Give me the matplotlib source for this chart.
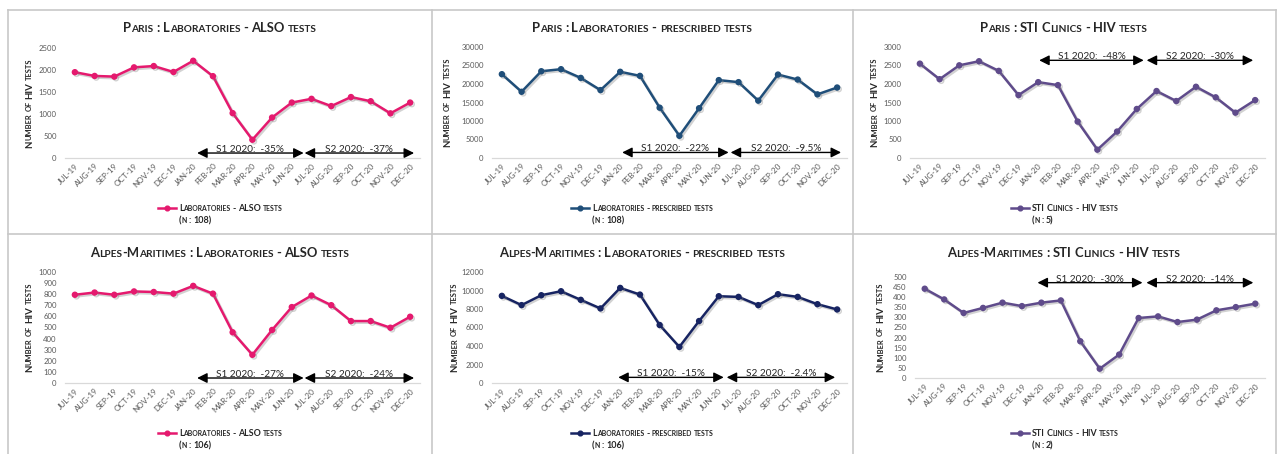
import numpy as np
import matplotlib
matplotlib.use('Agg')
import matplotlib.pyplot as plt
import matplotlib.patheffects as pe
from matplotlib.transforms import IdentityTransform
from matplotlib.lines import Line2D

W, H = 1278, 454
FONT = 'Lato'
ID = IdentityTransform()

# ---- data ----
months = ['Jul-19', 'Aug-19', 'Sep-19', 'Oct-19', 'Nov-19', 'Dec-19',
          'Jan-20', 'Feb-20', 'Mar-20', 'Apr-20', 'May-20', 'Jun-20',
          'Jul-20', 'Aug-20', 'Sep-20', 'Oct-20', 'Nov-20', 'Dec-20']

paris_also = [1950, 1865, 1850, 2060, 2090, 1955, 2210, 1860, 1020, 415, 920, 1260,
              1345, 1180, 1385, 1290, 1015, 1260]
paris_presc = [22650, 17900, 23450, 24000, 21650, 18350, 23300, 22200, 13600, 6000, 13450, 21050,
               20500, 15500, 22550, 21200, 17200, 19050]
paris_sti = [2550, 2130, 2505, 2615, 2355, 1700, 2050, 1970, 985, 225, 715, 1325,
             1810, 1540, 1925, 1640, 1225, 1565]
am_also = [795, 815, 795, 825, 820, 805, 875, 805, 457, 254, 478, 684,
           788, 701, 558, 558, 498, 597]
am_presc = [9420, 8420, 9490, 9920, 8990, 8060, 10280, 9560, 6270, 3900, 6700, 9380,
            9310, 8420, 9600, 9310, 8520, 7950]
am_sti = [442, 389, 322, 347, 373, 356, 373, 384, 182, 46, 116, 297,
          305, 277, 289, 335, 351, 368]

titles = ['Paris : Laboratories - ALSO tests',
          'Paris : Laboratories - prescribed tests',
          'Paris : STI Clinics - HIV tests',
          'Alpes-Maritimes : Laboratories - ALSO tests',
          'Alpes-Maritimes : Laboratories - prescribed tests',
          'Alpes-Maritimes : STI Clinics - HIV tests']
legend_labels = ['Laboratories - ALSO tests', 'Laboratories - prescribed tests',
                 'STI Clinics - HIV tests'] * 2
n_labels = ['(n : 108)', '(n : 108)', '(n : 5)', '(n : 106)', '(n : 106)', '(n : 2)']
s1_labels = ['S1 2020:  -35%', 'S1 2020:  -22%', 'S1 2020:  -48%',
             'S1 2020:  -27%', 'S1 2020:  -15%', 'S1 2020:  -30%']
s2_labels = ['S2 2020:  -37%', 'S2 2020:  -9.5%', 'S2 2020:  -30%',
             'S2 2020:  -24%', 'S2 2020:  -2.4%', 'S2 2020:  -14%']
ylabel = 'Number of HIV tests'
y_max = [2500, 30000, 3000, 1000, 12000, 500]
y_step = [500, 5000, 500, 100, 2000, 50]

PINK = '#E5196E'
BLUE = '#1F4E79'
NAVY = '#172462'
PURPLE = '#5F4B8B'

# layout (pixels from top-left): axes rect, ylabel x, arrow spans + height
panels = [
    dict(data=paris_also, color=PINK, rect=(65, 48, 420, 158), ylx=32, cx=220, row=0,
         s1=(6.2, 11.6), s2=(11.65, 17.2), ay=113),
    dict(data=paris_presc, color=BLUE, rect=(492, 47, 847, 158), ylx=450, cx=642, row=0,
         s1=(6.1, 11.5), s2=(11.6, 17.2), ay=1500),
    dict(data=paris_sti, color=PURPLE, rect=(910, 47, 1265, 158), ylx=877, cx=1064, row=0,
         s1=(6.05, 11.35), s2=(11.5, 16.9), ay=2640),
    dict(data=am_also, color=PINK, rect=(65, 272, 420, 383), ylx=32, cx=220, row=1,
         s1=(6.2, 11.6), s2=(11.65, 17.2), ay=45),
    dict(data=am_presc, color=NAVY, rect=(492, 272, 847, 383), ylx=457, cx=642, row=1,
         s1=(5.9, 11.25), s2=(11.4, 16.9), ay=610),
    dict(data=am_sti, color=PURPLE, rect=(915, 277, 1265, 378), ylx=883, cx=1064, row=1,
         s1=(5.8, 11.2), s2=(11.4, 16.9), ay=472),
]

fig = plt.figure(figsize=(W / 100, H / 100), dpi=100)
fig.patch.set_facecolor('white')
renderer = fig.canvas.get_renderer()


def text_w(s, size, weight='normal'):
    a = fig.text(0, 0, '|' + s + '|', fontsize=size, fontweight=weight, family=FONT)
    b = fig.text(0, 0, '||', fontsize=size, fontweight=weight, family=FONT)
    w = a.get_window_extent(renderer).width - b.get_window_extent(renderer).width
    a.remove()
    b.remove()
    return w


def sc_layout(s, size, weight='bold', ratio=0.78):
    # small caps: lower case letters drawn as smaller capitals
    runs = []
    for ch in s:
        if ch == ' ':
            runs.append([' ', False])
            continue
        small = ch.islower()
        if runs and runs[-1][0] != ' ' and runs[-1][1] == small:
            runs[-1][0] += ch.upper()
        else:
            runs.append([ch.upper(), small])
    items = []
    for t, small in runs:
        sz = size * ratio if small else size
        items.append((t, sz, text_w(t, sz, weight)))
    return items


def sc_width(s, size):
    return sum(it[2] for it in sc_layout(s, size))


def sc_draw(items, x, y, ha='center', angle=0, color='#262626', weight='bold'):
    total = sum(i[2] for i in items)
    a = np.radians(angle)
    dx, dy = np.cos(a), np.sin(a)
    off = {'left': 0, 'center': total / 2, 'right': total}[ha]
    X, Y = x - off * dx, (H - y) - off * dy
    for t, sz, w in items:
        if t != ' ':
            fig.text(X, Y, t, fontsize=sz, fontweight=weight, color=color, family=FONT,
                     ha='left', va='baseline', rotation=angle, rotation_mode='anchor',
                     transform=ID)
        X += w * dx
        Y += w * dy
    return total


def fit(strings, targets, measure):
    # font size giving the text widths seen in the reference
    got = sum(measure(s, 10) for s in strings)
    return 10 * sum(targets) / got


title_size = fit(titles, [191, 220, 172, 260, 291, 235], sc_width)
ylab_size = fit([ylabel], [90], sc_width)
leg_size = fit(legend_labels[:3], [105, 125, 88], sc_width)
arrow_size = fit([s1_labels[0], s2_labels[0]], [68, 68], text_w)
xtick_size = fit(['JUL-19'], [26], text_w)
ytick_size = fit(['2500'], [18], text_w)

# panel borders
border = '#C8C8C8'
for (x0, y0, x1, y1) in [(8, 10, 1276, 10), (8, 234, 1276, 234), (8, 10, 8, 454),
                         (432, 10, 432, 454), (853, 10, 853, 454), (1276, 10, 1276, 454)]:
    fig.add_artist(Line2D([x0, x1], [H - y0, H - y1], transform=ID, color=border, lw=1.2))

shadow = [pe.SimpleLineShadow(offset=(1.2, -1.2), shadow_color='#7F7F7F', alpha=0.35),
          pe.Normal()]

for i, p in enumerate(panels):
    x0, y0, x1, y1 = p['rect']
    ax = fig.add_axes([x0 / W, 1 - y1 / H, (x1 - x0) / W, (y1 - y0) / H])
    xs = np.arange(len(months))
    ax.plot(xs, p['data'], color=p['color'], lw=1.8, marker='o', ms=3.6,
            path_effects=shadow, clip_on=False, zorder=3)
    ax.set_xlim(-0.5, len(months) - 0.5)
    ax.set_ylim(0, y_max[i])
    ax.set_yticks(np.arange(0, y_max[i] + 1, y_step[i]))
    ax.set_xticks(xs)
    ax.set_xticklabels([m.upper() for m in months], rotation=45, ha='right',
                       rotation_mode='anchor', fontsize=xtick_size, color='#595959',
                       family=FONT)
    for lab in ax.get_yticklabels():
        lab.set_fontsize(ytick_size)
        lab.set_color('#595959')
        lab.set_family(FONT)
    ax.tick_params(length=0, axis='y', pad=6)
    ax.tick_params(length=0, axis='x', pad=3)
    for s in ['left', 'top', 'right']:
        ax.spines[s].set_visible(False)
    ax.spines['bottom'].set_color('#D9D9D9')
    ax.spines['bottom'].set_linewidth(0.9)
    ax.patch.set_alpha(0)

    # semester arrows
    for span, lab in [(p['s1'], s1_labels[i]), (p['s2'], s2_labels[i])]:
        ax.annotate('', xy=(span[1], p['ay']), xytext=(span[0], p['ay']),
                    arrowprops=dict(arrowstyle='<|-|>', color='black', lw=1.0,
                                    mutation_scale=15, shrinkA=0, shrinkB=0))
        ax.annotate(lab, xy=((span[0] + span[1]) / 2, p['ay']), xytext=(0, 0.8),
                    textcoords='offset points', ha='center', va='baseline',
                    fontsize=arrow_size, color='#262626', family=FONT)

    # title
    ty = 32 if p['row'] == 0 else 257
    sc_draw(sc_layout(titles[i], title_size), p['cx'], ty)

    # y label
    sc_draw(sc_layout(ylabel, ylab_size), p['ylx'], (y0 + y1) / 2,
            angle=90, color='#262626')

    # legend
    ly = 211 if p['row'] == 0 else 436
    items = sc_layout(legend_labels[i], leg_size)
    tw = sum(it[2] for it in items)
    start = p['cx'] - (tw + 20) / 2
    fig.add_artist(Line2D([start, start + 9, start + 18], [H - ly + 3.5] * 3, transform=ID,
                          color=p['color'], lw=1.8, marker='o', ms=3.4, markevery=[1]))
    sc_draw(items, start + 21, ly, ha='left')
    sc_draw(sc_layout(n_labels[i], leg_size), start + 21, ly + 12, ha='left')

fig.savefig('out.png', dpi=100)
